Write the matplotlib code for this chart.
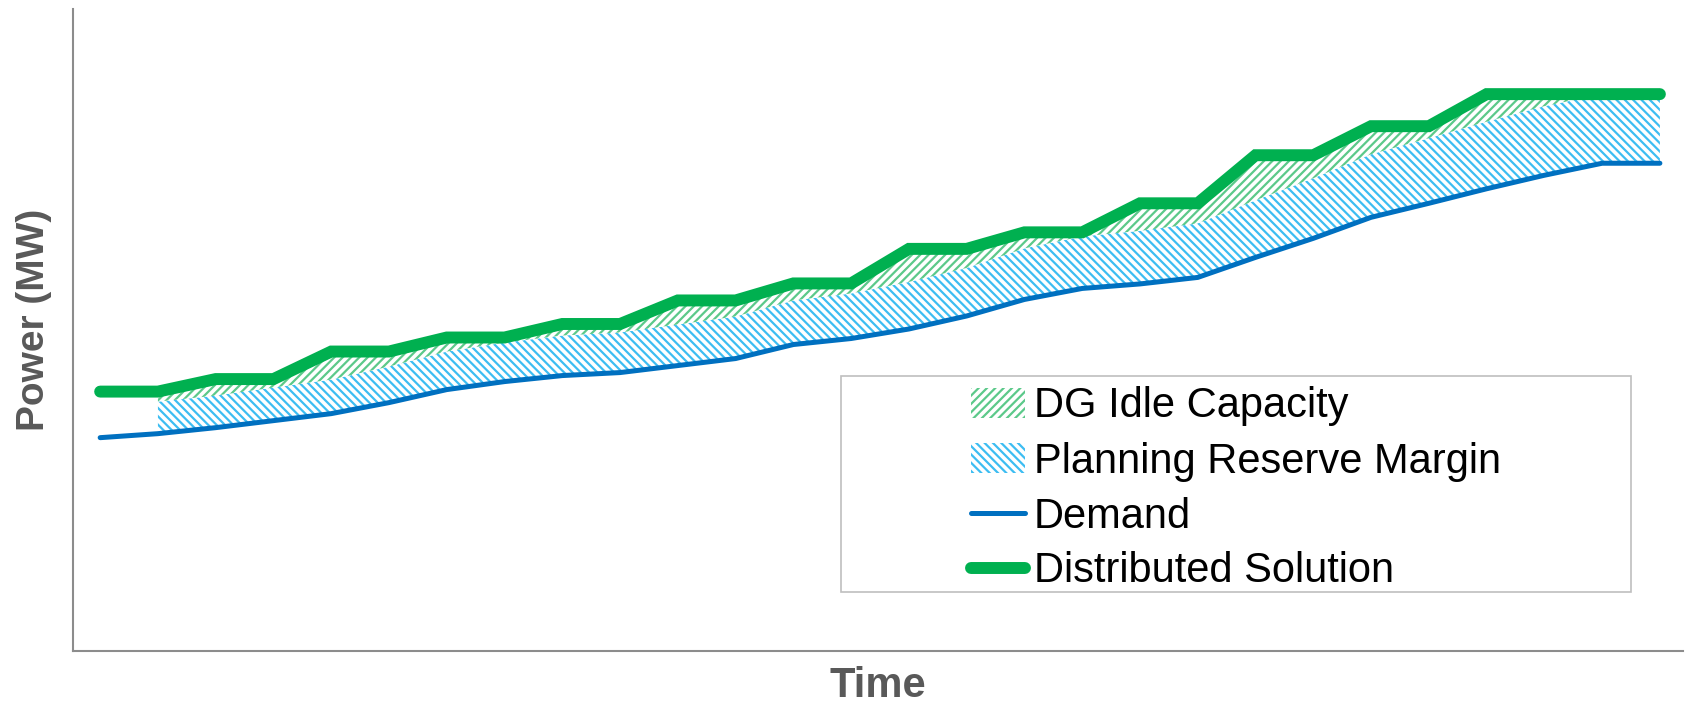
import matplotlib
matplotlib.use("Agg")
import matplotlib.pyplot as plt
import numpy as np
from matplotlib.patches import Rectangle

plt.rcParams["font.family"] = ["Liberation Sans", "DejaVu Sans"]
plt.rcParams["hatch.linewidth"] = 1.6

DEMAND_COLOR = "#0070C0"
SOLUTION_COLOR = "#00B050"
RESERVE_HATCH_COLOR = "#3DBDF2"
IDLE_HATCH_COLOR = "#5CC98A"
AXIS_COLOR = "#8C8C8C"
LABEL_COLOR = "#595959"

# 時間ステップごとの値（単位 MW、目盛りなしの相対値）
time_steps = np.arange(28)
demand = [213, 217, 223, 230, 237, 248, 261, 269, 275, 278, 285, 292, 306, 312,
          321.5, 334.5, 351, 362, 366.5, 373, 393, 412, 433, 447, 461.5, 475,
          487, 487]
# 最初のステップには予備力の帯がない
reserve_margin = [np.nan, 32, 32, 33, 34, 36, 38, 39, 40, 40, 41, 42, 44, 45,
                  47, 48, 51, 52, 53, 54, 57, 60, 63, 65, 67, 69, 69, 69]
distributed_solution = [259, 259, 271.5, 271.5, 299, 299, 313, 313, 326.5,
                        326.5, 350, 350, 367, 367, 401.5, 401.5, 418, 418, 447,
                        447, 495, 495, 524, 524, 556, 556, 556, 556]

demand_arr = np.array(demand, dtype=float)
reserve_top = demand_arr + np.array(reserve_margin, dtype=float)
solution_arr = np.array(distributed_solution, dtype=float)

fig = plt.figure(figsize=(16.88, 7.07), dpi=100)
ax = fig.add_axes([73 / 1688, 56 / 707, 1610 / 1688, 642 / 707])

reserve_fill = ax.fill_between(time_steps, demand_arr, reserve_top,
                               facecolor="white", edgecolor=RESERVE_HATCH_COLOR,
                               hatch="\\\\\\\\", linewidth=0,
                               label="Planning Reserve Margin", zorder=1)
idle_fill = ax.fill_between(time_steps, reserve_top, solution_arr,
                            facecolor="white", edgecolor=IDLE_HATCH_COLOR,
                            hatch="////", linewidth=0,
                            label="DG Idle Capacity", zorder=1)
demand_line, = ax.plot(time_steps, demand_arr, color=DEMAND_COLOR,
                       linewidth=3.6, solid_capstyle="round",
                       solid_joinstyle="round", label="Demand", zorder=3)
solution_line, = ax.plot(time_steps, solution_arr, color=SOLUTION_COLOR,
                         linewidth=8.6, solid_capstyle="round",
                         solid_joinstyle="miter", label="Distributed Solution",
                         zorder=4)

ax.set_xlim(-0.47, 27.4)
ax.set_ylim(0, 641)
ax.set_xticks([])
ax.set_yticks([])
for side in ("top", "right"):
    ax.spines[side].set_visible(False)
for side in ("left", "bottom"):
    ax.spines[side].set_color(AXIS_COLOR)
    ax.spines[side].set_linewidth(1.5)

ax.set_xlabel("Time", fontsize=30, fontweight="bold", color=LABEL_COLOR,
              labelpad=11)
ax.set_ylabel("Power (MW)", fontsize=28, fontweight="bold", color=LABEL_COLOR)
ax.yaxis.set_label_coords(-0.013, 0.516)

# 凡例の枠は別に描き、項目は枠の中央に置く
box_left, box_right = 841 / 1688, 1631 / 1688
box_bottom, box_top = 1 - 592 / 707, 1 - 376 / 707
fig.patches.append(Rectangle((box_left, box_bottom), box_right - box_left,
                             box_top - box_bottom, transform=fig.transFigure,
                             facecolor="white", edgecolor="#BFBFBF",
                             linewidth=1.2, zorder=5))
legend = fig.legend(handles=[idle_fill, reserve_fill, demand_line,
                             solution_line],
                    loc="center",
                    bbox_to_anchor=((box_left + box_right) / 2,
                                    1 - 489 / 707),
                    frameon=False, fontsize=30, handlelength=1.3,
                    handletextpad=0.2, labelspacing=0.36, borderpad=0)
legend.set_zorder(6)

fig.savefig("out.png", dpi=100)
